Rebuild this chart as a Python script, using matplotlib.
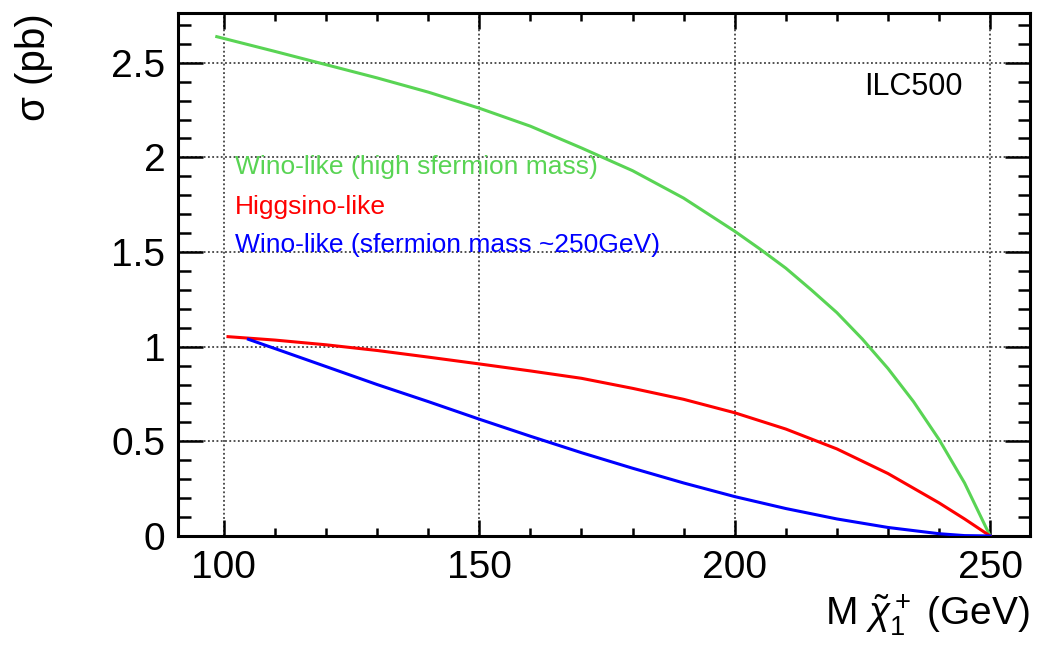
"""
Chargino pair production cross section vs. chargino mass at ILC500.
"""

import numpy as np
import matplotlib
matplotlib.use('Agg')
import matplotlib.pyplot as plt
from matplotlib.ticker import MultipleLocator

plt.rcParams['font.family'] = ['Liberation Sans', 'DejaVu Sans']
plt.rcParams['mathtext.fontset'] = 'custom'
plt.rcParams['mathtext.rm'] = 'Liberation Sans'
plt.rcParams['mathtext.it'] = 'Liberation Sans:italic'

# Wino-like, high sfermion mass
wino_high_x = [98.6, 110, 120, 130, 140, 150, 160, 170, 180, 190, 200,
               205, 210, 215, 220, 225, 230, 235, 240, 245, 250]
wino_high_y = [2.638, 2.56, 2.49, 2.42, 2.345, 2.26, 2.165, 2.05, 1.93, 1.785,
               1.61, 1.515, 1.415, 1.30, 1.18, 1.04, 0.885, 0.71, 0.51, 0.28, 0.0]

# Higgsino-like
higgsino_x = [100.8, 110, 120, 130, 140, 150, 160, 170, 180, 190, 200,
              210, 220, 230, 240, 245, 250]
higgsino_y = [1.053, 1.035, 1.01, 0.98, 0.945, 0.909, 0.872, 0.833, 0.78,
              0.722, 0.651, 0.565, 0.46, 0.33, 0.175, 0.09, 0.0]

# Wino-like, sfermion mass ~250 GeV
wino_low_x = [104.8, 110, 120, 130, 140, 150, 160, 170, 180, 190, 200,
              210, 220, 230, 240, 245, 250]
wino_low_y = [1.039, 0.99, 0.895, 0.80, 0.71, 0.617, 0.527, 0.44, 0.358,
              0.28, 0.208, 0.145, 0.09, 0.045, 0.012, 0.002, 0.0]

labels = ['Wino-like (high sfermion mass)',
          'Higgsino-like',
          'Wino-like (sfermion mass ~250GeV)']
colors = ['#59d454', '#ff0000', '#0000ff']

# Create figure
fig = plt.figure(figsize=(10.37, 6.47), dpi=100)
ax = fig.add_axes([0.1716, 0.1716, 0.8216, 0.8083])

series = [(wino_high_x, wino_high_y), (higgsino_x, higgsino_y), (wino_low_x, wino_low_y)]
for (xs, ys), c in zip(series, colors):
    ax.plot(xs, ys, color=c, linewidth=2.2, zorder=3, solid_joinstyle='round')

# Axes ranges and ticks (ROOT-like)
ax.set_xlim(91, 257.8)
ax.set_ylim(0, 2.763)
ax.xaxis.set_major_locator(MultipleLocator(50))
ax.xaxis.set_minor_locator(MultipleLocator(10))
ax.yaxis.set_major_locator(MultipleLocator(0.5))
ax.yaxis.set_minor_locator(MultipleLocator(0.1))
ax.yaxis.set_major_formatter(plt.FuncFormatter(lambda v, p: f"{v:g}"))

ax.tick_params(axis='both', which='both', direction='in', top=True, right=True,
               labelsize=28, width=1.8)
ax.tick_params(axis='x', which='major', length=11.5, pad=10)
ax.tick_params(axis='x', which='minor', length=5.8)
ax.tick_params(axis='y', which='major', length=18, pad=9)
ax.tick_params(axis='y', which='minor', length=9)
for sp in ax.spines.values():
    sp.set_linewidth(2.2)

ax.grid(True, which='major', color='#222222', linestyle=(0, (1.2, 1.6)), linewidth=1.1)

# Labels
ax.set_xlabel(r'M $\tilde{\chi}_1^+$ (GeV)', fontsize=28, loc='right', labelpad=5)
ax.set_ylabel('σ (pb)', fontsize=29, loc='top', labelpad=42)

# Legend as colored text
ypos = [0.7055, 0.629, 0.556]
for lab, c, yy in zip(labels, colors, ypos):
    ax.text(0.0669, yy, lab, color=c, fontsize=19, ha='left', va='center',
            transform=ax.transAxes)

ax.text(0.863, 0.858, 'ILC500', fontsize=22, ha='center', va='center',
        transform=ax.transAxes)

plt.savefig('out.png', dpi=100)
plt.close()
